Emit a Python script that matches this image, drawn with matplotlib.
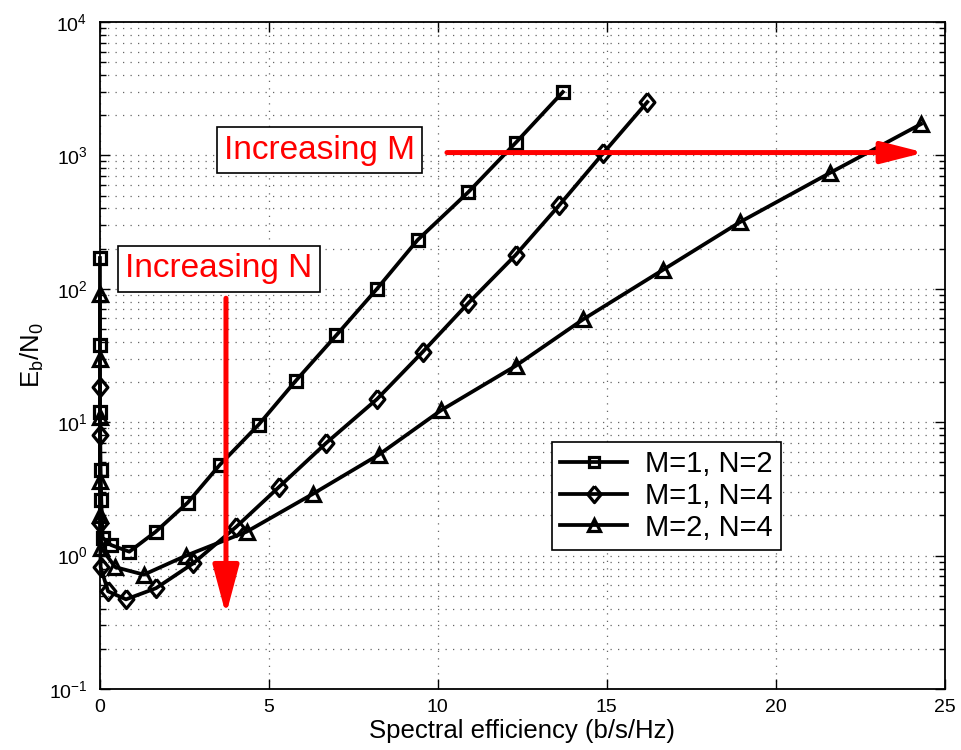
import matplotlib
matplotlib.use("Agg")
import matplotlib.pyplot as plt
from matplotlib.ticker import LogLocator, NullFormatter

plt.rcParams['font.family'] = ['Liberation Sans', 'DejaVu Sans']
plt.rcParams['mathtext.fontset'] = 'custom'
plt.rcParams['mathtext.rm'] = 'Liberation Sans'
plt.rcParams['mathtext.it'] = 'Liberation Sans'

# M=1, N=2 (squares)
x_m1n2 = [0.0, 0.0, 0.0, 0.02, 0.04, 0.08, 0.33, 0.87, 1.65, 2.6, 3.55, 4.7, 5.8, 7.0, 8.2, 9.4, 10.9, 12.3, 13.7]
y_m1n2 = [170, 38, 12, 4.4, 2.6, 1.36, 1.2, 1.07, 1.51, 2.5, 4.8, 9.6, 20.5, 45, 100, 232, 530, 1240, 2985]

# M=1, N=4 (diamonds)
x_m1n4 = [0.0, 0.0, 0.0, 0.02, 0.24, 0.77, 1.66, 2.76, 4.04, 5.3, 6.7, 8.2, 9.55, 10.9, 12.3, 13.6, 14.9, 16.2]
y_m1n4 = [18.5, 8.0, 1.75, 0.82, 0.54, 0.47, 0.57, 0.875, 1.65, 3.27, 7.0, 14.9, 33.6, 78, 179, 425, 1042, 2512]

# M=2, N=4 (triangles)
x_m2n4 = [0.0, 0.0, 0.0, 0.0, 0.01, 0.03, 0.45, 1.3, 2.55, 4.34, 6.3, 8.25, 10.1, 12.3, 14.3, 16.65, 18.95, 21.6, 24.3]
y_m2n4 = [92, 30, 11, 3.6, 2.0, 1.15, 0.82, 0.72, 1.0, 1.51, 2.9, 5.7, 12.3, 26.4, 59, 138, 317, 738, 1718]

labels = ['M=1, N=2', 'M=1, N=4', 'M=2, N=4']

# matlab-ish diamond (wider than mpl 'd')
diamond = [(0, 1), (0.82, 0), (0, -1), (-0.82, 0), (0, 1)]

fig = plt.figure(figsize=(9.61, 7.5), dpi=100)
ax = fig.add_axes([0.104, 0.0813, 0.879, 0.8894])

style = dict(color='k', lw=2.7, markerfacecolor='none', markeredgewidth=2.3, clip_on=False)
ax.plot(x_m1n2, y_m1n2, marker='s', markersize=8, label=labels[0], **style)
ax.plot(x_m1n4, y_m1n4, marker=diamond, markersize=13, label=labels[1], **style)
ax.plot(x_m2n4, y_m2n4, marker='^', markersize=10, label=labels[2], **style)

ax.set_yscale('log')
ax.set_xlim(0, 25)
ax.set_ylim(1e-1, 1e4)
ax.set_xticks([0, 5, 10, 15, 20, 25])
ax.yaxis.set_major_locator(LogLocator(base=10, numticks=10))
ax.yaxis.set_minor_locator(LogLocator(base=10, subs=range(2, 10), numticks=100))
ax.yaxis.set_minor_formatter(NullFormatter())

ax.grid(True, which='major', axis='x', color='#666666', lw=0.9, linestyle=(0, (1, 5)))
ax.grid(True, which='both', axis='y', color='#666666', lw=0.9, linestyle=(0, (1, 5)))

ax.tick_params(which='both', direction='in', top=True, right=True, labelsize=14)
ax.tick_params(which='major', length=7, width=1)
ax.tick_params(which='minor', length=4, width=1)
ax.tick_params(axis='x', pad=7)
ax.tick_params(axis='y', pad=9)
for s in ax.spines.values():
    s.set_linewidth(1.3)

ax.set_xlabel('Spectral efficiency (b/s/Hz)', fontsize=18.5, labelpad=2)
ax.set_ylabel(r'E$_\mathrm{b}$/N$_\mathrm{0}$', fontsize=18.5, labelpad=2)

# annotations
ax.annotate('', xy=(24.4, 1050), xytext=(10.27, 1050),
            arrowprops=dict(arrowstyle='-|>,head_length=1.3,head_width=0.33', lw=3.6,
                            color='#ff0000', shrinkA=0, shrinkB=0, mutation_scale=20))
ax.annotate('', xy=(3.73, 0.36), xytext=(3.73, 85),
            arrowprops=dict(arrowstyle='-|>,head_length=1.5,head_width=0.4', lw=3.6,
                            color='#ff0000', shrinkA=0, shrinkB=0, mutation_scale=20))

box = dict(boxstyle='square,pad=0.22', facecolor='white', edgecolor='k', lw=1.2)
ax.text(6.5, 1096, 'Increasing M', color='#ff0000', fontsize=24,
        ha='center', va='center', bbox=box)
ax.text(3.52, 141, 'Increasing N', color='#ff0000', fontsize=24,
        ha='center', va='center', bbox=box)

leg = ax.legend(loc='upper left', bbox_to_anchor=(0.574, 0.411), bbox_transform=fig.transFigure,
                borderaxespad=0, fontsize=21, fancybox=False, framealpha=1,
                edgecolor='k', handlelength=2.3, handletextpad=0.6, labelspacing=0.12,
                borderpad=0.3, markerscale=0.9)
leg.get_frame().set_linewidth(1.2)

fig.savefig('out.png', dpi=100)
